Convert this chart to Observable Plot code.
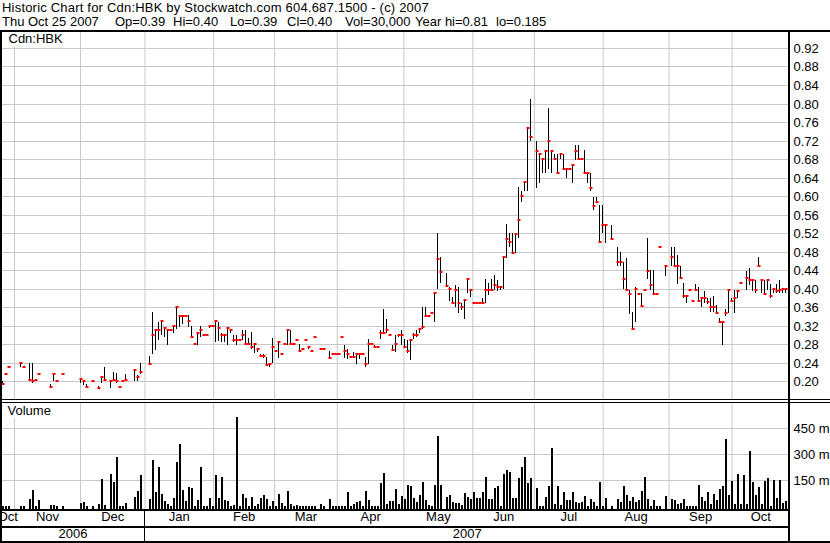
<!DOCTYPE html>
<html><head><meta charset="utf-8">
<script src="https://cdn.jsdelivr.net/npm/d3@7"></script>
<script src="https://cdn.jsdelivr.net/npm/@observablehq/plot@0.6"></script>
<style>
body{margin:0;background:#fff;}
#chart{position:relative;width:830px;height:543px;overflow:hidden;font-family:"Liberation Sans",Arial,sans-serif;background:#fff;color:#000}
.hdr{position:absolute;font-size:13px;line-height:13px;white-space:pre}
.ln{position:absolute;background:#000}
.pane{position:absolute;left:0}
.pane svg{display:block}
</style></head>
<body><div id="chart"></div>
<script>
// ---------- data (one slot per weekday, Oct 2006 - Oct 25 2007) ----------
const titleLine = "Historic Chart for Cdn:HBK by Stockwatch.com 604.687.1500 - (c) 2007";
const quoteFields = ["Thu Oct 25 2007","Op=0.39","Hi=0.40","Lo=0.39","Cl=0.40","Vol=30,000","Year hi=0.81","lo=0.185"];
const symbolLabel = "Cdn:HBK";
const volumeLabel = "Volume";
const priceTicks = [0.20,0.24,0.28,0.32,0.36,0.40,0.44,0.48,0.52,0.56,0.60,0.64,0.68,0.72,0.76,0.80,0.84,0.88,0.92];
const volTicks = [150,300,450];
const monthNames = ["Oct","Nov","Dec","Jan","Feb","Mar","Apr","May","Jun","Jul","Aug","Sep","Oct"];
const monthStarts = [-0.5,4,26,47.5,70.4,90.7,111.6,133.8,156.8,177.3,200.2,222.2,243.2];
const yearNames = ["2006","2007"];
const yearStarts = [-0.5,47.5];

const closeP = [
.195,.215,.23,null,null,null,.24,.23,null,.203,
.20,.203,.215,null,null,null,.188,.215,.20,null,
.215,null,null,null,null,null,.204,.20,.188,null,
.20,null,.185,.21,.203,null,.20,.203,.20,.188,
.20,.203,null,null,.225,.21,.22,null,null,.238,
.30,.31,.31,.33,.315,.31,.31,.32,.36,.34,
.34,.34,.33,.295,.28,.305,.31,.30,.30,.32,
.32,.33,.315,.30,.30,.315,.31,.29,.29,.29,
.30,.28,.28,.275,.28,.27,.255,.255,.235,.237,
.275,.265,.285,.26,.28,.31,.28,.28,.29,.265,
.27,.29,.275,.265,.295,null,.27,.27,null,.25,
.26,.26,.26,.295,.265,.26,.253,.253,.26,.26,
.26,.237,.28,.28,.275,.275,.305,.305,.31,.30,
.268,.28,.30,.30,.275,.265,.29,.30,.30,.314,
.318,.34,.34,.348,.39,.465,.435,null,.405,.40,
.37,.397,.37,.36,.376,.42,.397,.37,.37,.37,
.37,.397,.397,.397,.408,.404,.404,.469,.508,.50,
.478,.518,.548,.60,.63,.748,.728,null,.698,.69,
.68,.698,.718,.698,.68,.649,.69,.659,.659,.659,
.667,.698,.68,.68,.649,.649,.618,.579,.587,.50,
.538,.538,null,.508,null,.458,.458,.42,.397,.389,
.314,.40,.389,.363,.397,.438,.408,.389,.389,.489,
null,.45,null,.469,.45,.45,.424,.385,.385,.397,
.374,.397,.374,.379,.379,.371,.36,.36,.348,.329,
.329,.348,.397,.374,.379,.394,.413,null,.424,.419,
.419,.397,.45,.419,.389,.419,.384,.399,.394,.397,
.40,.40];
// null = same as close
const highP = [
.201,null,null,null,null,null,.24,null,null,.24,
.24,null,null,null,null,null,.195,.215,null,null,
null,null,null,null,null,null,.206,.201,.195,null,
null,null,.19,.21,.23,null,.20,.22,.218,null,
null,.216,null,null,.226,.213,.24,null,null,.255,
.35,.311,.329,.33,.318,.314,null,.32,.36,.343,
.343,null,.343,.32,.282,.306,.32,null,null,.32,
null,.33,.329,.304,.30,.315,.312,.30,.30,null,
.31,.31,.294,.307,.282,.27,.259,.26,.253,.239,
.293,null,.285,null,null,.311,.311,null,null,.281,
null,null,.276,null,null,null,null,null,null,.266,
null,null,null,null,.279,.269,null,.264,.262,.262,
null,.253,.292,null,.279,null,.311,.356,.335,null,
.279,.30,.30,.311,.291,.29,.291,.304,.311,.314,
.36,.36,null,null,.39,.52,.469,null,.433,.404,
.381,.407,.404,.37,.376,.42,.399,null,null,null,
.379,.42,.413,.42,.43,.419,.404,.469,.539,.52,
.52,.52,.619,.61,.63,.749,.81,null,.719,.69,
.681,.698,.79,.698,.69,.69,.69,.69,.659,null,
.668,.71,.71,null,.70,.649,.649,.599,.599,.581,
.581,.538,null,.538,null,.491,.479,.458,.466,.397,
.35,.404,null,.39,.40,.509,.44,.44,null,null,
null,.45,null,.489,.489,.473,.45,.412,.385,null,
null,.41,.404,.383,.396,.379,.379,.384,.364,.337,
.329,.356,.397,.379,.397,.397,null,null,.438,.444,
.419,.419,.469,.419,.419,.419,.41,.40,.41,.419,
.40,.40];
const lowP = [
.192,null,null,null,null,null,.23,null,null,.20,
.196,null,null,null,null,null,.186,.20,null,null,
null,null,null,null,null,null,.196,.193,.188,null,
null,null,.185,.196,.201,null,.186,.20,.196,null,
null,.20,null,null,.20,.20,.215,null,null,.237,
.26,.268,.289,.30,.296,.279,null,.305,.312,.318,
.324,null,.318,.293,.278,.278,.295,null,null,.316,
null,.284,.288,.284,.284,.279,.304,.284,.279,null,
.289,.279,.279,.269,.262,.263,.253,.25,.232,.23,
.239,null,.25,null,null,.279,.279,null,null,.263,
null,null,.269,null,null,null,null,null,null,.249,
null,null,null,null,.25,.249,null,.25,.237,.249,
null,.23,.237,null,.273,null,.291,.305,.305,null,
.268,.264,.295,.278,.275,.262,.245,.291,.295,.304,
.314,.338,null,null,.329,.40,.413,null,.403,.374,
.368,.361,.348,.354,.334,.39,.383,null,null,null,
.37,.37,.386,.396,.397,.394,.397,.40,.466,.489,
.476,.478,.509,.588,.61,.61,.718,null,.618,.629,
.649,.649,.659,.649,.68,.649,.68,.659,.639,null,
.629,.678,.68,null,.649,.629,.61,.569,.585,.499,
.52,.499,null,.508,null,.45,.45,.40,.397,.345,
.31,.329,null,.36,.397,.42,.397,.389,null,null,
null,.428,null,.45,.45,.41,.42,.379,.37,null,
null,.397,.374,.36,.37,.366,.35,.35,.347,.329,
.279,.34,.348,.373,.348,.379,null,null,.397,.408,
.394,.39,.45,.39,.389,.397,.38,.39,.39,.39,
.39,.39];
// volume in thousands of shares ("m")
const volume = [
2,2,2,0,0,0,2,2,0,42,
94,2,37,0,0,0,10,10,2,0,
2,0,0,0,0,0,19,25,2,0,
2,0,13,158,10,0,187,142,285,2,
2,19,0,0,56,90,181,0,0,40,
267,85,227,71,33,13,2,48,256,361,
96,29,112,108,2,37,227,2,2,48,
2,181,48,169,37,33,2,6,515,2,
69,48,2,54,2,13,48,63,40,2,
31,2,71,17,2,90,13,2,6,2,
2,2,2,2,2,0,13,2,0,44,
2,2,2,2,2,83,2,13,25,31,
2,88,37,2,2,2,135,194,13,33,
33,100,13,60,44,123,117,48,25,65,
140,37,10,2,123,408,123,0,56,65,
25,21,17,10,77,52,42,83,48,48,
83,169,40,44,104,117,2,187,210,198,
48,48,163,227,285,135,163,0,106,2,
2,56,117,335,13,117,6,83,37,37,
83,25,19,27,58,2,44,27,2,142,
2,48,0,2,0,42,25,117,65,29,
54,25,37,88,169,44,2,37,2,2,
0,60,0,40,37,13,19,40,2,2,
2,2,123,54,31,83,13,71,37,98,
117,387,63,146,13,187,13,183,13,319,
142,65,110,13,146,162,2,152,48,152,
17,30];

// ---------- build ----------
const SLOTS = 787/3;
const root = document.getElementById("chart");
const FONT = '"Liberation Sans", Arial, sans-serif';
const GRID = "#c8c8c8";

function addLine(x, y, w, h){const d=document.createElement("div");d.className="ln";Object.assign(d.style,{left:x+"px",top:y+"px",width:w+"px",height:h+"px"});root.appendChild(d);}
function addText(txt, x, y, ls){const d=document.createElement("div");d.className="hdr";d.textContent=txt;d.style.left=x+"px";d.style.top=y+"px";if(ls)d.style.letterSpacing=ls;root.appendChild(d);}
function addPane(svg, top){const d=document.createElement("div");d.className="pane";d.style.top=top+"px";d.appendChild(svg);root.appendChild(d);}

addText(titleLine, 2, 1, "0.2px");
const fieldX = [2,115,173,230,287,345,415,496];
quoteFields.forEach((t,i)=>addText(t, fieldX[i], 15));

const bars = d3.range(closeP.length).filter(i => closeP[i] != null)
  .map(i => ({slot: i, close: closeP[i], high: highP[i] ?? closeP[i], low: lowP[i] ?? closeP[i]}));
const vols = d3.range(volume.length).filter(i => volume[i] > 0).map(i => ({slot: i, vol: volume[i]}));
const grids = monthStarts.slice(1);

const style = {fontFamily: FONT, fontSize: "13px", background: "transparent", color: "#000", overflow: "visible"};

const priceLo = 0.1596, priceHi = 0.9566;
const price = Plot.plot({
  width: 830, height: 369, marginLeft: 2, marginRight: 41, marginTop: 0, marginBottom: 0,
  style,
  x: {domain: [0, SLOTS], axis: null},
  y: {domain: [priceLo, priceHi], axis: null, round: true},
  marks: [
    Plot.gridY(priceTicks, {stroke: GRID, strokeOpacity: 1}),
    Plot.gridX(grids, {stroke: GRID, strokeOpacity: 1}),
    Plot.ruleX(bars, {x: "slot", y1: "low", y2: "high", stroke: "#000", strokeWidth: 1}),
    Plot.ruleY(bars, {y: "close", x1: "slot", x2: d => d.slot + 1, stroke: "#ff0000", strokeWidth: 2, dx: -0.5, dy: -0.5}),
    Plot.axisY(priceTicks, {anchor: "right", label: null, tickSize: 0, tickPadding: 4, tickFormat: d => d.toFixed(2), fontSize: 13, fill: "#000"}),
    Plot.text([symbolLabel], {frameAnchor: "top-left", dx: 6, dy: 2, lineAnchor: "top", textAnchor: "start", fill: "#000", stroke: "#fff", strokeWidth: 7, fontSize: 13})
  ]
});
addPane(price, 31);

const volLo = -15.6, volHi = 596;
const vol = Plot.plot({
  width: 830, height: 106, marginLeft: 2, marginRight: 41, marginTop: 0, marginBottom: 0,
  style,
  x: {domain: [0, SLOTS], axis: null},
  y: {domain: [volLo, volHi], axis: null, round: true},
  marks: [
    Plot.gridY(volTicks, {stroke: GRID, strokeOpacity: 1}),
    Plot.gridX(grids, {stroke: GRID, strokeOpacity: 1}),
    Plot.ruleX(vols, {x: "slot", y1: () => volLo, y2: "vol", stroke: "#000", strokeWidth: 2, dx: 0.5}),
    Plot.axisY(volTicks, {anchor: "right", label: null, tickSize: 0, tickPadding: 4, tickFormat: d => d + " m", fontSize: 13, fill: "#000"}),
    Plot.text([volumeLabel], {frameAnchor: "top-left", dx: 5, dy: 2, lineAnchor: "top", textAnchor: "start", fill: "#000", stroke: "#fff", strokeWidth: 7, fontSize: 13})
  ]
});
addPane(vol, 403);

const monthLabels = monthNames.map((m,i) => ({name: m, mid: (monthStarts[i] + (i+1 < monthStarts.length ? monthStarts[i+1] : SLOTS))/2}));
const yearLabels = yearNames.map((y,i) => ({name: y, mid: (yearStarts[i] + (i+1 < yearStarts.length ? yearStarts[i+1] : SLOTS))/2}));
const axis = Plot.plot({
  width: 830, height: 34, marginLeft: 2, marginRight: 41, marginTop: 0, marginBottom: 0,
  style,
  x: {domain: [0, SLOTS], axis: null},
  marks: [
    Plot.text(monthLabels, {x: "mid", text: "name", frameAnchor: "top", dy: 2, lineAnchor: "top", fontSize: 13, fill: "#000"}),
    Plot.text(yearLabels, {x: "mid", text: "name", frameAnchor: "top", dy: 19, lineAnchor: "top", fontSize: 13, fill: "#000"})
  ]
});
addPane(axis, 509);

// frame lines
addLine(0, 30, 830, 2);     // top
addLine(0, 30, 2, 513);     // left
addLine(788, 30, 2, 513);   // right axis separator
addLine(0, 399, 830, 1);    // price bottom (double)
addLine(0, 402, 830, 1);
addLine(0, 509, 790, 2);    // volume bottom
addLine(0, 526, 790, 2);    // month/year separator
addLine(144, 509, 1, 33);   // year divider
addLine(0, 541, 830, 2);    // bottom
</script>
</body></html>
